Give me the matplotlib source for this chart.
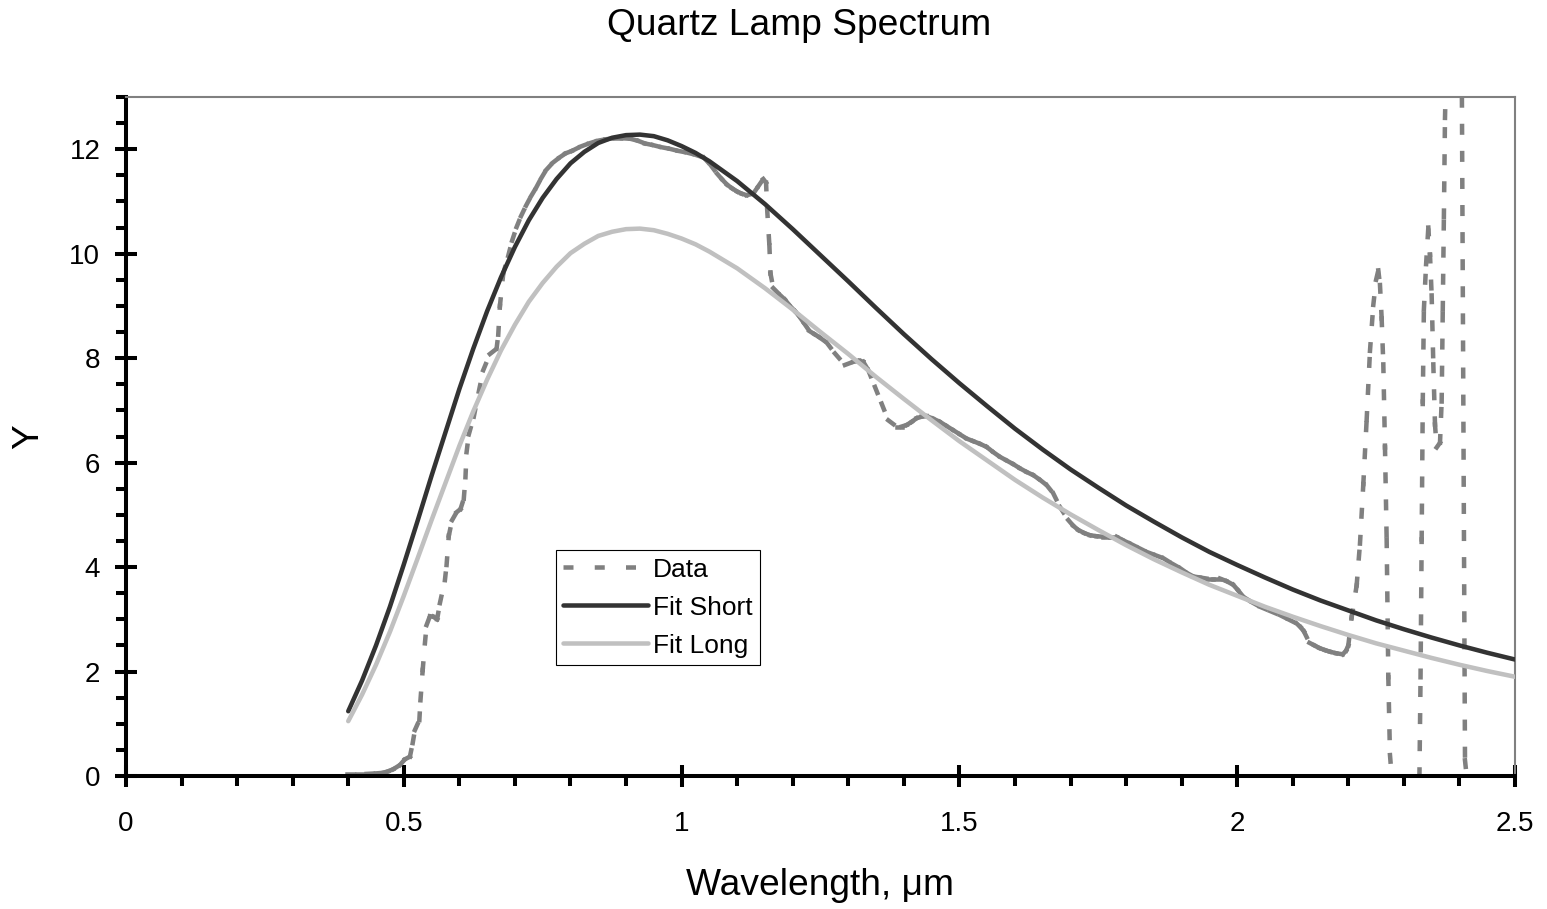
import numpy as np
import matplotlib
matplotlib.use("Agg")
import matplotlib.pyplot as plt
from matplotlib.collections import LineCollection
from matplotlib.lines import Line2D
from matplotlib.ticker import MultipleLocator

plt.rcParams["font.family"] = ["Liberation Sans", "DejaVu Sans"]
plt.rcParams["lines.scale_dashes"] = False

# fitted curves
fit_x = [0.40, 0.425, 0.45, 0.475, 0.50, 0.525, 0.55, 0.575, 0.60, 0.625, 0.65, 0.675,
         0.70, 0.725, 0.75, 0.775, 0.80, 0.825, 0.85, 0.875, 0.90, 0.925, 0.95, 0.975,
         1.00, 1.025, 1.05, 1.10, 1.15, 1.20, 1.25, 1.30, 1.35, 1.40, 1.45, 1.50, 1.55,
         1.60, 1.65, 1.70, 1.75, 1.80, 1.85, 1.90, 1.95, 2.00, 2.05, 2.10, 2.15, 2.20,
         2.25, 2.30, 2.35, 2.40, 2.45, 2.50]
fit_short = [1.24, 1.83, 2.50, 3.24, 4.05, 4.89, 5.75, 6.58, 7.41, 8.18, 8.90, 9.55,
             10.13, 10.64, 11.07, 11.43, 11.73, 11.95, 12.12, 12.22, 12.27, 12.28, 12.25, 12.17,
             12.06, 11.93, 11.77, 11.39, 10.95, 10.47, 9.97, 9.47, 8.96, 8.46, 7.98, 7.52, 7.08,
             6.65, 6.25, 5.87, 5.52, 5.18, 4.87, 4.57, 4.29, 4.04, 3.80, 3.57, 3.36, 3.17,
             2.98, 2.81, 2.65, 2.50, 2.36, 2.23]
fit_long = [1.05, 1.56, 2.13, 2.76, 3.45, 4.17, 4.90, 5.61, 6.32, 6.98, 7.59, 8.15,
            8.64, 9.08, 9.44, 9.75, 10.01, 10.19, 10.34, 10.42, 10.47, 10.48, 10.45, 10.38,
            10.29, 10.18, 10.04, 9.72, 9.34, 8.93, 8.50, 8.08, 7.64, 7.22, 6.81, 6.41, 6.04,
            5.67, 5.33, 5.01, 4.71, 4.42, 4.15, 3.90, 3.66, 3.45, 3.24, 3.05, 2.87, 2.70,
            2.54, 2.40, 2.26, 2.13, 2.01, 1.90]

# measured spectrum
data_x = [0.397, 0.415, 0.433, 0.450, 0.462, 0.472, 0.481, 0.493, 0.502, 0.511, 0.516, 0.520,
          0.528, 0.530, 0.534, 0.538, 0.541, 0.547, 0.553, 0.560, 0.565, 0.574, 0.577, 0.581,
          0.587, 0.595, 0.602, 0.608, 0.611, 0.613, 0.617, 0.626, 0.635, 0.643, 0.655, 0.667,
          0.670, 0.673, 0.679, 0.688, 0.695, 0.703, 0.711, 0.720, 0.729, 0.738, 0.747, 0.756,
          0.768, 0.780, 0.791, 0.803, 0.818, 0.833, 0.848, 0.863, 0.878, 0.893, 0.908, 0.922,
          0.934, 0.948, 0.963, 0.978, 0.993, 1.008, 1.023, 1.040, 1.052, 1.064, 1.073, 1.082,
          1.091, 1.100, 1.108, 1.117, 1.129, 1.138, 1.147, 1.152, 1.154, 1.158, 1.160, 1.165,
          1.177, 1.186, 1.195, 1.204, 1.212, 1.221, 1.230, 1.239, 1.248, 1.261, 1.276, 1.294,
          1.309, 1.320, 1.327, 1.336, 1.348, 1.360, 1.372, 1.387, 1.396, 1.405, 1.414, 1.423,
          1.432, 1.441, 1.453, 1.465, 1.477, 1.489, 1.501, 1.513, 1.525, 1.537, 1.549, 1.561,
          1.573, 1.585, 1.597, 1.609, 1.621, 1.633, 1.645, 1.657, 1.669, 1.681, 1.696, 1.705,
          1.714, 1.725, 1.735, 1.747, 1.759, 1.771, 1.783, 1.795, 1.807, 1.822, 1.837, 1.852,
          1.867, 1.882, 1.897, 1.909, 1.921, 1.933, 1.945, 1.957, 1.969, 1.981, 1.993, 2.002,
          2.011, 2.026, 2.041, 2.059, 2.077, 2.092, 2.107, 2.114, 2.120, 2.130, 2.139, 2.148,
          2.158, 2.167, 2.178, 2.190, 2.196, 2.200, 2.206, 2.215, 2.221, 2.227, 2.233, 2.239,
          2.245, 2.250, 2.254, 2.257, 2.260, 2.263, 2.266, 2.269, 2.272, 2.275, 2.278, 2.328,
          2.330, 2.332, 2.334, 2.336, 2.340, 2.344, 2.347, 2.350, 2.353, 2.356, 2.359, 2.365,
          2.368, 2.370, 2.372, 2.374, 2.390, 2.404, 2.410, 2.413]
data_y = [0.04, 0.04, 0.04, 0.05, 0.06, 0.09, 0.13, 0.21, 0.32, 0.37, 0.63, 0.88,
          1.07, 1.45, 2.03, 2.54, 2.89, 3.06, 3.05, 3.00, 3.31, 3.75, 4.04, 4.60,
          4.90, 5.05, 5.11, 5.31, 5.72, 6.20, 6.54, 6.88, 7.36, 7.77, 8.08, 8.18,
          8.45, 9.00, 9.62, 9.96, 10.25, 10.51, 10.72, 10.92, 11.10, 11.26, 11.44, 11.60,
          11.74, 11.84, 11.92, 11.97, 12.05, 12.11, 12.16, 12.19, 12.21, 12.21, 12.20, 12.16,
          12.11, 12.08, 12.04, 12.01, 11.97, 11.94, 11.90, 11.84, 11.70, 11.53, 11.42, 11.32,
          11.25, 11.19, 11.15, 11.12, 11.15, 11.29, 11.43, 11.36, 10.85, 10.16, 9.62, 9.34,
          9.21, 9.12, 9.00, 8.90, 8.80, 8.66, 8.52, 8.46, 8.40, 8.30, 8.09, 7.87,
          7.93, 7.95, 7.93, 7.77, 7.45, 7.13, 6.81, 6.69, 6.69, 6.72, 6.78, 6.85,
          6.88, 6.89, 6.84, 6.78, 6.70, 6.62, 6.54, 6.46, 6.41, 6.36, 6.30, 6.20,
          6.11, 6.04, 5.97, 5.89, 5.82, 5.76, 5.67, 5.57, 5.41, 5.15, 4.90, 4.79,
          4.71, 4.65, 4.61, 4.59, 4.58, 4.58, 4.58, 4.51, 4.45, 4.37, 4.29, 4.23,
          4.17, 4.07, 3.98, 3.89, 3.82, 3.80, 3.78, 3.78, 3.78, 3.73, 3.66, 3.55,
          3.43, 3.33, 3.24, 3.16, 3.08, 3.00, 2.92, 2.85, 2.77, 2.55, 2.50, 2.45,
          2.41, 2.38, 2.35, 2.33, 2.40, 2.50, 3.04, 3.65, 4.45, 5.59, 6.82, 8.14,
          9.02, 9.50, 9.68, 9.40, 8.76, 7.88, 6.29, 4.53, 1.89, 0.40, 0.00, 0.00,
          1.89, 4.53, 7.17, 8.93, 9.80, 10.50, 9.98, 9.20, 7.88, 6.73, 6.29, 6.38,
          7.17, 8.93, 10.70, 12.60, 20.00, 14.00, 0.30, 0.00]

series_names = ["Data", "Fit Short", "Fit Long"]
series_colors = ["#808080", "#333333", "#c0c0c0"]

x_ticks = [0, 0.5, 1, 1.5, 2, 2.5]
x_tick_labels = ["0", "0.5", "1", "1.5", "2", "2.5"]
y_ticks = [0, 2, 4, 6, 8, 10, 12]
y_tick_labels = ["0", "2", "4", "6", "8", "10", "12"]

fig = plt.figure(figsize=(15.47, 9.09), dpi=100)
ax = fig.add_axes([126 / 1547, 1 - 776 / 909, 1389 / 1547, 679 / 909])

lw = 3.25

# the data line restarts its dash pattern on every segment (like the original chart),
# so dense stretches look solid and steep jumps look dashed
pts = np.column_stack([data_x, data_y])
segs = np.stack([pts[:-1], pts[1:]], axis=1)
lc = LineCollection(segs, colors=series_colors[0], linewidths=lw,
                    linestyle=(0, (4.7, 14.8)), capstyle="projecting", zorder=2)
ax.add_collection(lc)

ax.plot(fit_x, fit_short, color=series_colors[1], lw=lw,
        solid_capstyle="round", solid_joinstyle="round", zorder=3)
ax.plot(fit_x, fit_long, color=series_colors[2], lw=lw,
        solid_capstyle="round", solid_joinstyle="round", zorder=4)

ax.set_xlim(0, 2.5)
ax.set_ylim(0, 13)

for side in ["left", "bottom"]:
    ax.spines[side].set_color("black")
    ax.spines[side].set_linewidth(2.9)
for side in ["top", "right"]:
    ax.spines[side].set_color("#808080")
    ax.spines[side].set_linewidth(1.5)

ax.set_xticks(x_ticks, x_tick_labels)
ax.set_yticks(y_ticks, y_tick_labels)
ax.xaxis.set_minor_locator(MultipleLocator(0.1))
ax.yaxis.set_minor_locator(MultipleLocator(0.5))
ax.tick_params(which="major", direction="inout", length=16, width=2.9, labelsize=20)
ax.tick_params(which="minor", direction="out", length=7.2, width=2.9)
ax.tick_params(axis="x", which="major", pad=17)
ax.tick_params(axis="y", which="major", pad=10.5)

ax.set_xlabel("Wavelength, μm", fontsize=26.7)
ax.xaxis.label.set_va("baseline")
ax.xaxis.set_label_coords(0.5, -0.1748)
ax.set_ylabel("Y", fontsize=26.7)
ax.yaxis.label.set_va("center")
ax.yaxis.set_label_coords(-0.0702, 0.5)

fig.text(798.7 / 1547, 1 - 35 / 909, "Quartz Lamp Spectrum", fontsize=26.7,
         ha="center", va="baseline")

handles = [
    Line2D([], [], color=series_colors[0], lw=lw, linestyle=(0, (7.2, 15.3)),
           dash_capstyle="butt"),
    Line2D([], [], color=series_colors[1], lw=lw, solid_capstyle="round"),
    Line2D([], [], color=series_colors[2], lw=lw, solid_capstyle="round"),
]
leg = ax.legend(handles, series_names, loc="upper left", bbox_to_anchor=(0.3094, 0.3328),
                borderaxespad=0, fontsize=19, fancybox=False, edgecolor="black",
                framealpha=1, handlelength=3.2, handletextpad=0.2, labelspacing=0.53,
                borderpad=0.29)
leg.get_frame().set_linewidth(0.8)

fig.savefig("out.png", dpi=100)
